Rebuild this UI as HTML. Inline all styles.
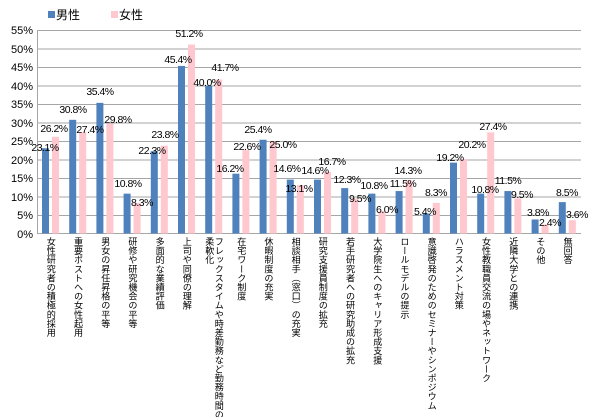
<!DOCTYPE html>
<html><head><meta charset="utf-8"><style>
body{margin:0;background:#fff;}
#c{position:relative;width:600px;height:417px;overflow:hidden;font-family:"Liberation Sans","Noto Sans CJK JP",sans-serif;}
.v{position:absolute;top:237px;writing-mode:vertical-rl;font-size:9.1px;line-height:9.5px;color:#000;white-space:nowrap;font-family:"Noto Sans CJK JP","IPAGothic",sans-serif;}
</style></head><body><div id="c">
<svg width="600" height="417" style="position:absolute;left:0;top:0" font-family="Liberation Sans, sans-serif">
<g stroke="#a6a6a6" stroke-width="1">
<line x1="37" x2="581" y1="30.5" y2="30.5"/><line x1="37" x2="581" y1="49" y2="49"/><line x1="37" x2="581" y1="67.5" y2="67.5"/><line x1="37" x2="581" y1="86" y2="86"/><line x1="37" x2="581" y1="104.5" y2="104.5"/><line x1="37" x2="581" y1="123" y2="123"/><line x1="37" x2="581" y1="141.5" y2="141.5"/><line x1="37" x2="581" y1="160" y2="160"/><line x1="37" x2="581" y1="178.5" y2="178.5"/><line x1="37" x2="581" y1="197" y2="197"/><line x1="37" x2="581" y1="215.5" y2="215.5"/><line x1="37" x2="581" y1="233.5" y2="233.5"/>
<line x1="37.5" x2="37.5" y1="30" y2="234"/>
</g>
<g font-size="11" text-anchor="end" fill="#000">
<text x="33" y="34">55%</text><text x="33" y="53">50%</text><text x="33" y="71">45%</text><text x="33" y="90">40%</text><text x="33" y="108">35%</text><text x="33" y="127">30%</text><text x="33" y="145">25%</text><text x="33" y="164">20%</text><text x="33" y="182">15%</text><text x="33" y="201">10%</text><text x="33" y="219">5%</text><text x="33" y="238">0%</text>
</g>
<g id="bars"></g>
<rect x="48" y="11" width="7" height="7" fill="#4f81bd"/><text x="56" y="19" font-size="12" font-family="Noto Sans CJK JP, sans-serif">男性</text>
<rect x="111" y="11" width="7" height="7" fill="#ffc7ce"/><text x="119" y="19" font-size="12" font-family="Noto Sans CJK JP, sans-serif">女性</text>
<g font-size="10.5" text-anchor="middle" fill="#000" letter-spacing="-0.5" id="lbl">
<text x="45" y="151">23.1%</text><text x="54" y="132">26.2%</text><text x="73" y="113">30.8%</text><text x="90" y="133">27.4%</text><text x="100" y="95">35.4%</text><text x="118" y="123">29.8%</text><text x="128" y="187">10.8%</text><text x="142" y="206">8.3%</text><text x="152" y="154">22.3%</text><text x="165" y="138">23.8%</text><text x="178" y="63">45.4%</text><text x="189" y="37">51.2%</text><text x="207" y="86">40.0%</text><text x="225" y="71">41.7%</text><text x="230" y="172">16.2%</text><text x="247" y="150">22.6%</text><text x="258" y="133">25.4%</text><text x="283" y="148">25.0%</text><text x="287" y="172">14.6%</text><text x="299" y="192">13.1%</text><text x="315" y="174">14.6%</text><text x="332" y="165">16.7%</text><text x="347" y="183">12.3%</text><text x="360" y="202">9.5%</text><text x="374" y="189">10.8%</text><text x="387" y="213">6.0%</text><text x="403" y="187">11.5%</text><text x="408" y="174">14.3%</text><text x="425" y="215">5.4%</text><text x="436" y="196">8.3%</text><text x="450" y="161">19.2%</text><text x="472" y="148">20.2%</text><text x="485" y="193">10.8%</text><text x="493" y="130">27.4%</text><text x="508" y="184">11.5%</text><text x="522" y="198">9.5%</text><text x="538" y="216">3.8%</text><text x="550" y="226">2.4%</text><text x="567" y="196">8.5%</text><text x="577" y="218">3.6%</text>
</g>
</svg>
<div id="labels"></div>
</div>
<script>
var m=[23.1,30.8,35.4,10.8,22.3,45.4,40.0,16.2,25.4,14.6,14.6,12.3,10.8,11.5,5.4,19.2,10.8,11.5,3.8,8.5];
var f=[26.2,27.4,29.8,8.3,23.8,51.2,41.7,22.6,25.0,13.1,16.7,9.5,6.0,14.3,8.3,20.2,27.4,9.5,2.4,3.6];
var names=["女性研究者の積極的採用","重要ポストへの女性起用","男女の昇任昇格の平等","研修や研究機会の平等","多面的な業績評価","上司や同僚の理解","フレックスタイムや時差勤務など勤務時間の<br>柔軟化","在宅ワーク制度","休暇制度の充実","相談相手（窓口）の充実","研究支援員制度の拡充","若手研究者への研究助成の拡充","大学院生へのキャリア形成支援","ロールモデルの提示","意識啓発のためのセミナーやシンポジウム","ハラスメント対策","女性教職員交流の場やネットワーク","近隣大学との連携","その他","無回答"];
var ns="http://www.w3.org/2000/svg",g=document.getElementById("bars"),L=document.getElementById("labels");
var base=233.5,k=203/55,w=27.2;
for(var i=0;i<20;i++){
 var x=37+w*i+5;
 [[m[i],"#4f81bd",x],[f[i],"#ffc7ce",x+10]].forEach(function(a){
  var r=document.createElementNS(ns,"rect");var h=a[0]*k;
  r.setAttribute("x",a[2]);r.setAttribute("y",base-h);r.setAttribute("width",7);r.setAttribute("height",h);r.setAttribute("fill",a[1]);g.appendChild(r);});
 var d=document.createElement("div");d.className="v";d.innerHTML=names[i];
 var cx=37+w*(i+0.5);
 if(i==6){d.style.left=(cx-9.5)+"px";}else{d.style.left=(cx-4.75)+"px";}
 L.appendChild(d);
}
</script>
</body></html>
